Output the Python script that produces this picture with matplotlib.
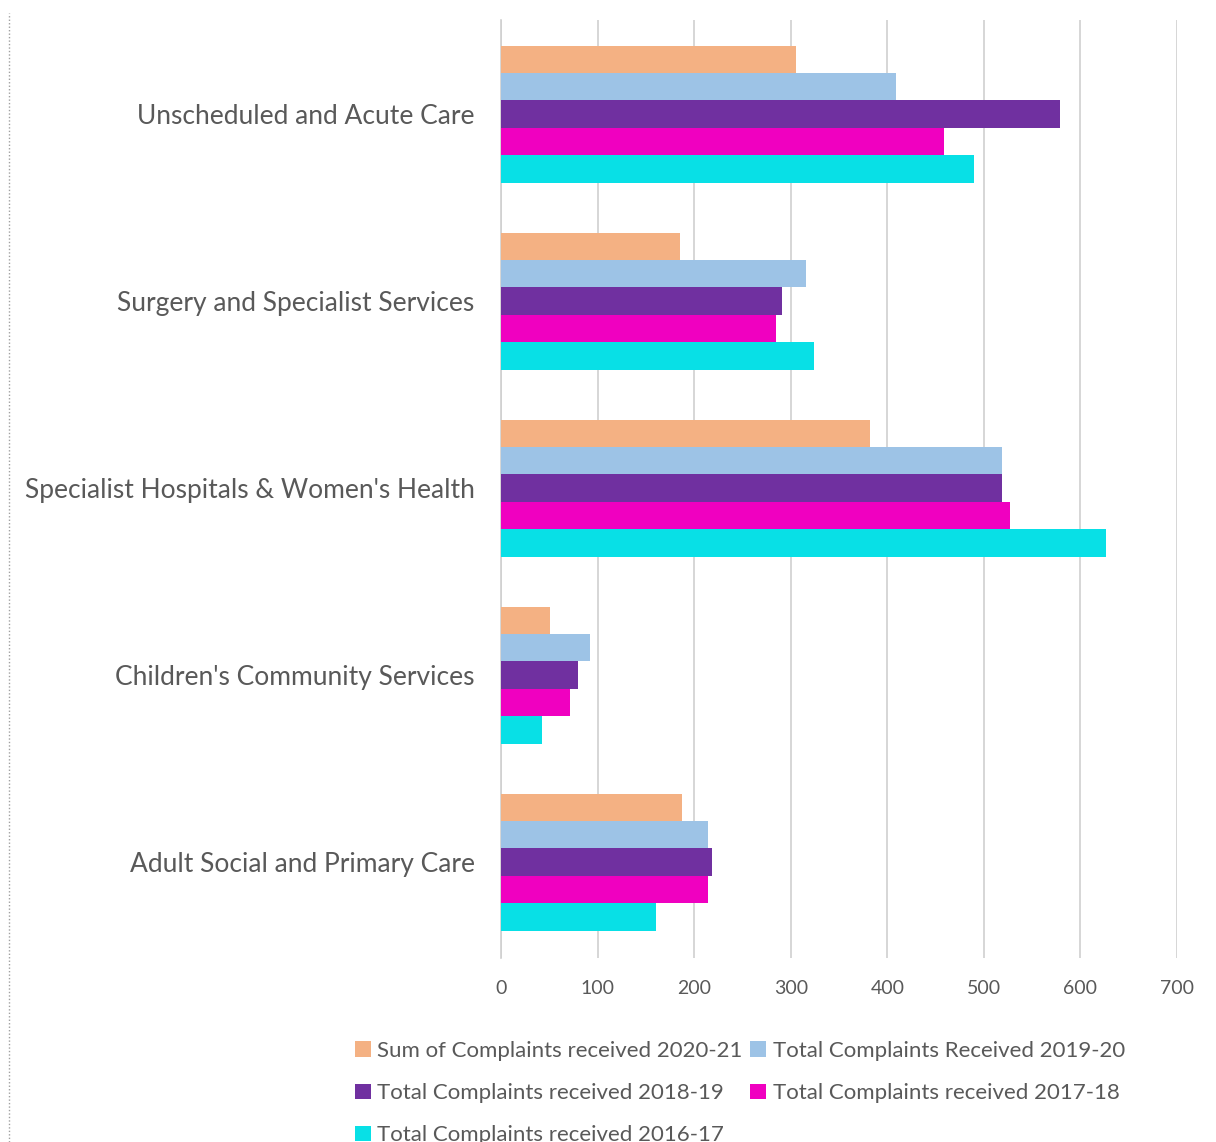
import matplotlib
matplotlib.use("Agg")
import matplotlib.pyplot as plt
import numpy as np
from matplotlib.lines import Line2D
from matplotlib.patches import Patch

categories = ["Adult Social and Primary Care", "Children's Community Services",
              "Specialist Hospitals & Women's Health", "Surgery and Specialist Services",
              "Unscheduled and Acute Care"]
series_names = ["Sum of Complaints received 2020-21", "Total Complaints Received 2019-20",
                "Total Complaints received 2018-19", "Total Complaints received 2017-18",
                "Total Complaints received 2016-17"]
v2020_21 = [187, 51, 382, 185, 305]
v2019_20 = [214, 92, 519, 316, 409]
v2018_19 = [218, 80, 519, 291, 579]
v2017_18 = [214, 71, 527, 285, 459]
v2016_17 = [160, 42, 626, 324, 490]
colors = ["#F4B183", "#9DC3E6", "#7030A0", "#F000C0", "#08E0E6"]
xticks = [0, 100, 200, 300, 400, 500, 600, 700]

plt.rcParams['font.family'] = ['Lato', 'DejaVu Sans']
fig = plt.figure(figsize=(12.16, 11.42), dpi=100)
ax = fig.add_axes([501/1216, 1-958/1142, (1177-501)/1216, (958-20)/1142])

series = [v2020_21, v2019_20, v2018_19, v2017_18, v2016_17]
y = np.arange(len(categories))
h = 0.1465
for i, (vals, c) in enumerate(zip(series, colors)):
    offset = (2 - i) * h
    ax.barh(y + offset, vals, height=h, color=c, label=series_names[i], zorder=3)

ax.set_xlim(0, 700)
ax.set_ylim(-0.513, 4.503)
ax.set_xticks(xticks)
ax.set_xticklabels([str(t) for t in xticks])
ax.set_yticks(y)
ax.set_yticklabels(categories)
ax.grid(axis='x', color='#D0D0D0', linewidth=1.2, zorder=0)
for s in ['top', 'right', 'bottom']:
    ax.spines[s].set_visible(False)
ax.spines['left'].set_color('#D0D0D0')
ax.spines['left'].set_linewidth(1.2)
ax.tick_params(axis='both', length=0, colors='#595959')
ax.tick_params(axis='x', labelsize=14, pad=16)
ax.tick_params(axis='y', labelsize=19, pad=19)

# left border dotted line
fig.add_artist(Line2D([9/1216, 9/1216], [0, 1-13/1142], transform=fig.transFigure,
                      color='#A0A0A0', linestyle=(0, (1, 1.5)), linewidth=1))

handles = [Patch(facecolor=c, edgecolor='none') for c in colors]
order = [0, 2, 4, 1, 3]
leg = fig.legend([handles[k] for k in order], [series_names[k] for k in order],
                 loc='upper left', ncol=2,
                 bbox_to_anchor=(335/1216, 1-1021/1142), frameon=False,
                 fontsize=16, handlelength=0.7, handleheight=0.7, handletextpad=0.3,
                 columnspacing=0.35, labelspacing=1.0, labelcolor='#595959')

fig.savefig("out.png", dpi=100)
